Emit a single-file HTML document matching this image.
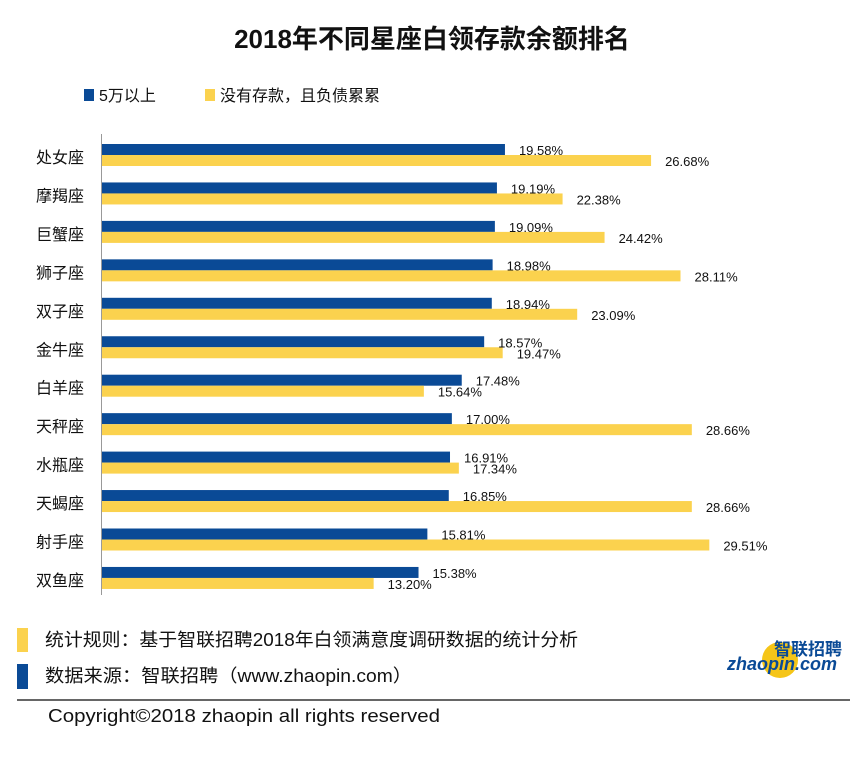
<!DOCTYPE html>
<html><head><meta charset="utf-8"><style>
body{margin:0;background:#fff;}
svg text{font-family:"Liberation Sans","Noto Sans CJK SC",sans-serif;}
</style></head><body>
<svg id="chart" width="865" height="755" xmlns="http://www.w3.org/2000/svg">
<text x="432" y="48" text-anchor="middle" font-size="26" font-weight="bold" fill="#111">2018年不同星座白领存款余额排名</text>
<g>
<rect x="84" y="89" width="10" height="12" fill="#0a4a96"/>
<text x="99" y="101" font-size="16" fill="#111">5万以上</text>
<rect x="205" y="89" width="10" height="12" fill="#fbd24e"/>
<text x="220" y="101" font-size="16" fill="#111">没有存款，且负债累累</text>
</g>
<line x1="101.5" y1="134" x2="101.5" y2="595" stroke="#999" stroke-width="1"/>
<g id="bars"></g>
<g>
<rect x="17" y="628" width="11" height="24" fill="#fbd24e"/>
<text x="45" y="646" font-size="18" fill="#111" textLength="533" lengthAdjust="spacingAndGlyphs">统计规则：基于智联招聘2018年白领满意度调研数据的统计分析</text>
<rect x="17" y="664" width="11" height="25" fill="#0a4a96"/>
<text x="45" y="682" font-size="18" fill="#111" textLength="367" lengthAdjust="spacingAndGlyphs">数据来源：智联招聘（www.zhaopin.com）</text>
<line x1="17" y1="700" x2="850" y2="700" stroke="#333" stroke-width="1.5"/>
<text x="48" y="722" font-size="18" fill="#111" textLength="392" lengthAdjust="spacingAndGlyphs">Copyright©2018 zhaopin all rights reserved</text>
</g>
<g>
<circle cx="780" cy="660" r="18" fill="#f5c518"/>
<text x="808" y="655" text-anchor="middle" font-size="17" font-weight="bold" fill="#0a4a96">智联招聘</text>
<text x="782" y="670" text-anchor="middle" font-size="18" font-weight="bold" fill="#0a4a96" font-style="italic">zhaopin.com</text>
</g>
</svg>
<script>
const categories=["处女座","摩羯座","巨蟹座","狮子座","双子座","金牛座","白羊座","天秤座","水瓶座","天蝎座","射手座","双鱼座"];
const savingsValues=[19.58,19.19,19.09,18.98,18.94,18.57,17.48,17.00,16.91,16.85,15.81,15.38];
const debtValues=[26.68,22.38,24.42,28.11,23.09,19.47,15.64,28.66,17.34,28.66,29.51,13.20];
const NS="http://www.w3.org/2000/svg";
const x0=102, pxPer=20.58, rowTop=144, pitch=38.45, bh=11;
const xScale=v=>v*pxPer;
const yRow=i=>rowTop+i*pitch;
const g=document.getElementById('bars');
function mk(tag,attrs){const e=document.createElementNS(NS,tag);for(const k in attrs)e.setAttribute(k,attrs[k]);g.appendChild(e);return e;}
categories.forEach((c,i)=>{
  const y=yRow(i);
  const lab=mk('text',{x:84,y:y+19,'text-anchor':'end','font-size':16,fill:'#111'});
  lab.textContent=c;
  
  
  const b=mk('rect',{x:x0,y:y,width:xScale(savingsValues[i]),height:bh,fill:'#0a4a96'});
  
  
  const d=mk('rect',{x:x0,y:y+bh,width:xScale(debtValues[i]),height:bh,fill:'#fbd24e'});
  
  
  const t1=mk('text',{x:x0+xScale(savingsValues[i])+14,y:y+11,'font-size':13,fill:'#111'});
  t1.textContent=savingsValues[i].toFixed(2)+'%';
  
  
  const t2=mk('text',{x:x0+xScale(debtValues[i])+14,y:y+22,'font-size':13,fill:'#111'});
  t2.textContent=debtValues[i].toFixed(2)+'%';
  
  
});
</script>
</body></html>
